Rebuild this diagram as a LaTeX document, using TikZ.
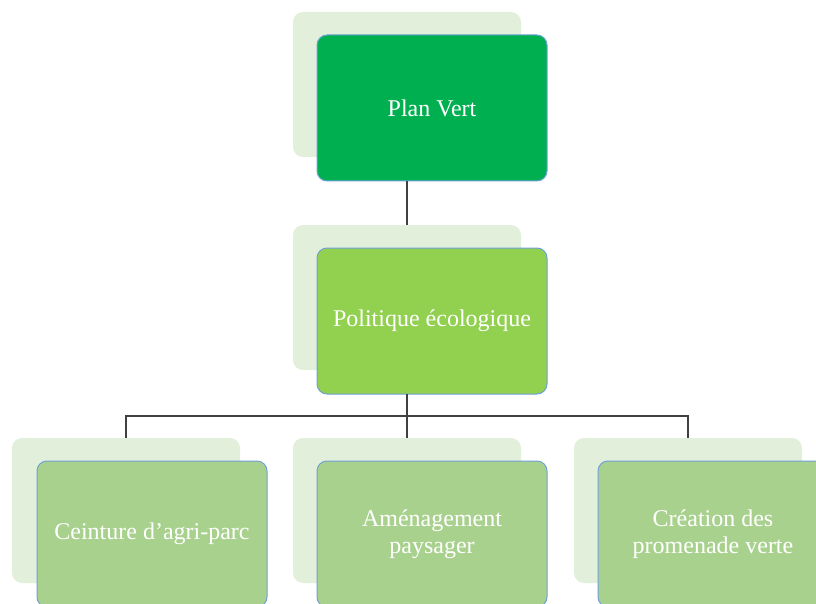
\documentclass[tikz,border=0pt]{standalone}
\usepackage{fontspec}
\setmainfont{Liberation Serif}
\definecolor{backc}{HTML}{E2EFDA}
\definecolor{c1}{HTML}{00B050}
\definecolor{c2}{HTML}{92D050}
\definecolor{c3}{HTML}{A9D18E}
\definecolor{edgec}{HTML}{6FA0D8}
\definecolor{linec}{HTML}{404040}
\begin{document}
\begin{tikzpicture}[x=1pt,y=-1pt,
  backbox/.style={fill=backc,draw=none,rounded corners=10pt,minimum width=228pt,minimum height=145pt,inner sep=0pt,outer sep=0pt},
  frontbox/.style={draw=edgec,line width=1pt,rounded corners=10pt,minimum width=230pt,minimum height=146pt,inner sep=0pt,outer sep=0pt,
    text=white,align=center,font=\fontsize{24}{27}\selectfont},
  conn/.style={draw=linec,line width=1.5pt}]
\useasboundingbox (0,0) rectangle (816,604);
\clip (0,0) rectangle (816,604);
% top
\node[backbox] (b1) at (407,84.5) {};
\node[frontbox,fill=c1] (f1) at (432,108) {Plan Vert};
% middle
\node[backbox] (b2) at (407,297.5) {};
\node[frontbox,fill=c2] (f2) at (432,321) {Politique écologique};
% bottom
\node[backbox] (b3) at (126,510.5) {};
\node[backbox] (b4) at (407,510.5) {};
\node[backbox] (b5) at (688,510.5) {};
\node[frontbox,fill=c3] (f3) at (152,534) {Ceinture d’agri-parc};
\node[frontbox,fill=c3] (f4) at (432,534) {Aménagement\\paysager};
\node[frontbox,fill=c3] (f5) at (713,534) {Création des\\promenade verte};
% connectors
\coordinate (bus) at (407,416);
\draw[conn] (f1.south -| b2.north) -- (b2.north);
\draw[conn] (f2.south -| b2.north) -- (bus);
\draw[conn] (b3.north) |- (bus) -| (b5.north);
\draw[conn] (bus) -- (b4.north);
\end{tikzpicture}
\end{document}
